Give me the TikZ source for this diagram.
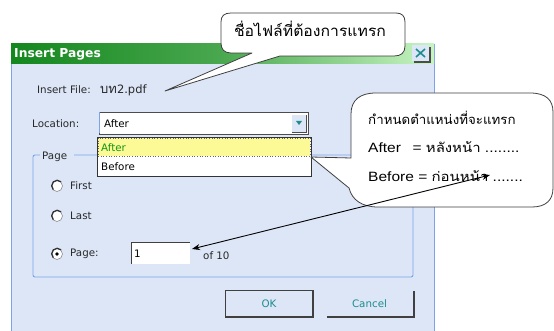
\documentclass[tikz,border=0pt]{standalone}
\usepackage{fontspec}
\setmainfont{Liberation Sans}
\newfontfamily\uifont{DejaVu Sans}
\newfontfamily\thai[Script=Thai]{Loma}
\usetikzlibrary{arrows.meta}
\definecolor{dlgbg}{RGB}{220,230,247}
\definecolor{dlgline}{RGB}{125,162,232}
\definecolor{tgreen}{RGB}{20,135,30}
\definecolor{tlight}{RGB}{200,245,195}
\definecolor{uitxt}{RGB}{40,40,40}
\definecolor{teal}{RGB}{30,140,140}
\definecolor{hilite}{RGB}{252,250,150}
\definecolor{hgreen}{RGB}{20,150,20}
\tikzset{
  uitext/.style={anchor=west, inner sep=0pt, text=uitxt, font=\uifont\fontsize{10.3}{12}\selectfont},
  calltext/.style={anchor=west, inner sep=0pt, xscale=1.15, font=\fontsize{13.5}{15}\selectfont},
  callout/.style={draw=black!75, fill=white, line width=0.8pt, line join=round},
  radio/.style={circle, fill=white, draw=black!45, line width=0.6pt, minimum size=11pt, inner sep=0pt},
}
\newcommand{\thaicall}{\thai\fontsize{13}{15}\selectfont}
\begin{document}
\begin{tikzpicture}[x=1pt,y=-1pt]
\useasboundingbox (0,0) rectangle (554,331);
\fill[white] (0,0) rectangle (554,331);
% dialog body
\fill[dlgbg] (11,44) rectangle (434,331);
\draw[dlgline, line width=1pt] (11,44) -- (11,331);
\draw[dlgline, line width=1pt] (434,44) -- (434,331);
% title bar
\shade[left color=tgreen, right color=tlight, middle color=tgreen!70!tlight] (11,44) rectangle (434,64);
\node[anchor=west, inner sep=0pt, text=white, font=\uifont\bfseries\fontsize{12.3}{13}\selectfont] (title) at (14,54.5) {Insert Pages};
% close button
\fill[black!70] (414,47) rectangle (431,63);
\fill[dlgbg] (412,45) rectangle (429,61);
\draw[teal, line width=1.6pt] (416,49) -- (425,57) (425,49) -- (416,57);
\coordinate (closebtn) at (420,53);

% Insert file
\node[uitext] (lblfile) at (37,90) {Insert File:};
\node[uitext, font=\uifont\fontsize{11.5}{12}\selectfont] (fname) at (100,90) {{\thai\fontsize{13}{13}\selectfont บท}2.pdf};
% location
\node[uitext] (lblloc) at (32,124) {Location:};
\draw[fill=white, draw=black!70, line width=0.8pt] (99,112) rectangle (308,134);
\draw[draw=dlgline, line width=0.8pt] (99.5,112.5) -- (99.5,133.5);
\node[uitext, text=black] (combo) at (104,124) {After};
\fill[dlgbg] (292,115) rectangle (306,132);
\draw[black!70, line width=0.8pt] (292,132) -- (306,132) -- (306,115);
\fill[teal] (296,121) -- (302,121) -- (299,125) -- cycle;
% group box
\draw[dlgline, line width=0.9pt, rounded corners=2pt] (40,155) -- (33,155) -- (33,277) -- (413,277) -- (413,155) -- (74,155);
\node[uitext] (lblpage) at (42,157) {Page};
% drop-down list
\draw[fill=white, draw=black!80, line width=0.8pt] (97,137) rectangle (311,176);
\fill[hilite] (98,138) rectangle (310,156);
\draw[black!60, dotted, line width=0.6pt] (98,138) rectangle (310,156);
\node[uitext, text=hgreen] (optafter) at (101,147.5) {After};
\node[uitext, text=black] (optbefore) at (101,167) {Before};
% radios
\node[radio] (r1) at (57,186) {};
\node[radio] (r2) at (57,216) {};
\node[radio] (r3) at (57,254) {};
\foreach \r in {r1,r2,r3}{
  \draw[black!80, line width=1.3pt] (\r.north east) arc[start angle=45, end angle=225, radius=5.5pt];
}
\fill[black] (r3) circle (1.8pt);
\node[uitext] (tfirst) at (70,186) {First};
\node[uitext] (tlast) at (70,216) {Last};
\node[uitext] (tpage) at (70,254) {Page:};
% page field
\fill[white] (131,242) rectangle (190,264);
\draw[black!75, line width=0.9pt] (131,264) -- (131,242) -- (190,242);
\node[uitext, text=black] (pnum) at (134,254) {1};
\node[uitext] (of10) at (203,256) {of 10};
% buttons
\fill[black!75] (226,291) rectangle (314,318);
\fill[dlgbg] (225,290) rectangle (312,316);
\draw[black!75, line width=0.8pt] (225,290) rectangle (313,317);
\node[uitext, anchor=center, text=teal] (ok) at (269,303.5) {OK};
\fill[black!75] (327,291) rectangle (415,318);
\fill[dlgbg] (326,290) rectangle (413,316);
\node[uitext, anchor=center, text=teal] (cancel) at (369.5,303.5) {Cancel};

% callout 1
\coordinate (tip1) at (165,91);
\draw[callout] (tip1) -- (252,53) -- (231,53) .. controls (224,53) and (221,49) .. (221,43) -- (221,22)
  .. controls (221,16) and (224,13) .. (231,13) -- (396,13) .. controls (402,13) and (405,16) .. (405,22)
  -- (405,46) .. controls (405,53) and (401,56) .. (394,56) -- (280,56) -- cycle;
\node[anchor=center, inner sep=0pt, xscale=1.05, font=\thai\fontsize{15}{16}\selectfont] (call1) at (310,29) {ชื่อไฟล์ที่ต้องการแทรก};

% callout 2
\coordinate (tip2) at (311,157);
\draw[callout] (tip2) -- (351,158) -- (351,114) .. controls (351,100) and (360,93) .. (376,93) -- (530,93)
  .. controls (546,93) and (553,100) .. (553,112) -- (553,188) .. controls (553,200) and (546,207) .. (532,207)
  -- (378,207) .. controls (362,207) and (352,200) .. (349,188) -- cycle;
\node[calltext] (c2a) at (368,118) {\scalebox{0.89}[1]{\thaicall กำหนดตำแหน่งที่จะแทรก}};
\node[calltext] (c2b) at (368,147) {After\hspace{10pt}= {\thaicall หลังหน้า} ........};
\node[calltext] (c2c) at (368,176) {Before = {\thaicall ก่อนหน้า} .......};

% double arrow
\coordinate (aend) at (490,175);
\draw[black, line width=0.9pt, {Stealth[length=8pt,width=6pt]}-{Stealth[length=8pt,width=6pt]}] (192,249) -- (aend);
\end{tikzpicture}
\end{document}
